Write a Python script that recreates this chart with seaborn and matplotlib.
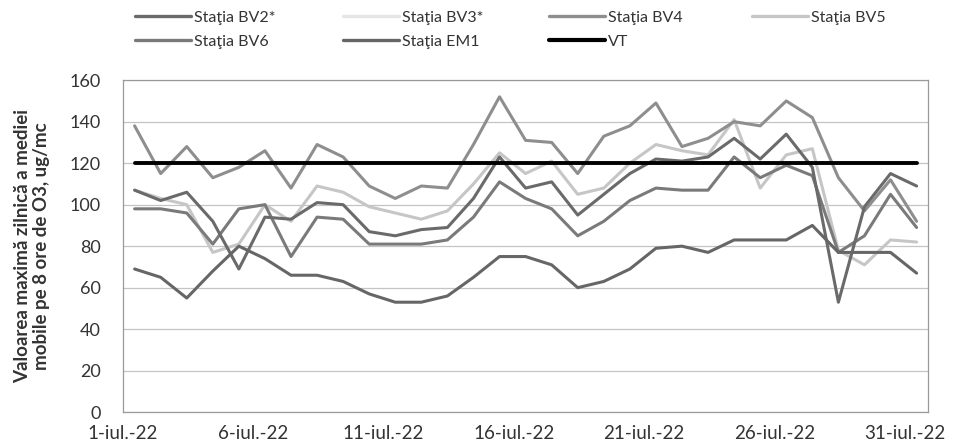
import numpy as np
import pandas as pd
import matplotlib
matplotlib.use("Agg")
import matplotlib.pyplot as plt
from matplotlib.lines import Line2D
import seaborn as sns

days = list(range(1, 32))
tick_days = [1, 6, 11, 16, 21, 26, 31]
tick_labels = [f"{d}-iul.-22" for d in tick_days]

bv4 = [138, 115, 128, 113, 118, 126, 108, 129, 123, 109, 103, 109, 108, 129, 152, 131,
       130, 115, 133, 138, 149, 128, 132, 140, 138, 150, 142, 113, 97, 112, 92]
bv5 = [107, 103, 100, 77, 81, 100, 92, 109, 106, 99, 96, 93, 97, 110, 125, 115,
       121, 105, 108, 120, 129, 126, 124, 141, 108, 124, 127, 78, 71, 83, 82]
bv2 = [107, 102, 106, 92, 69, 94, 93, 101, 100, 87, 85, 88, 89, 103, 123, 108,
       111, 95, 105, 115, 122, 121, 123, 132, 122, 134, 118, 53, 99, 115, 109]
bv6 = [98, 98, 96, 81, 98, 100, 75, 94, 93, 81, 81, 81, 83, 94, 111, 103,
       98, 85, 92, 102, 108, 107, 107, 123, 113, 119, 114, 77, 85, 105, 89]
em1 = [69, 65, 55, 68, 80, 74, 66, 66, 63, 57, 53, 53, 56, 65, 75, 75,
       71, 60, 63, 69, 79, 80, 77, 83, 83, 83, 90, 77, 77, 77, 67]
vt = [120] * 31

series = {
    "Staţia BV2*": bv2,
    "Staţia BV4": bv4,
    "Staţia BV5": bv5,
    "Staţia BV6": bv6,
    "Staţia EM1": em1,
    "VT": vt,
}
colors = {
    "Staţia BV2*": "#6a6a6a",
    "Staţia BV3*": "#e6e6e6",
    "Staţia BV4": "#8e8e8e",
    "Staţia BV5": "#c6c6c6",
    "Staţia BV6": "#7a7a7a",
    "Staţia EM1": "#666666",
    "VT": "#000000",
}

rows = []
for name, vals in series.items():
    for d, v in zip(days, vals):
        rows.append({"day": d, "value": v, "serie": name})
df = pd.DataFrame(rows)

sns.set_style("white")
plt.rcParams["font.family"] = ["Lato", "DejaVu Sans"]

fig = plt.figure(figsize=(9.6, 4.48), dpi=100)
ax = fig.add_axes([0.128, 0.080, 0.967 - 0.128, 0.821 - 0.080])

order = ["Staţia BV5", "Staţia BV4", "Staţia BV6", "Staţia BV2*", "Staţia EM1", "VT"]
for name in order:
    sub = df[df["serie"] == name]
    sns.lineplot(data=sub, x="day", y="value", ax=ax, color=colors[name],
                 lw=2.8 if name == "VT" else 2.2, legend=False,
                 zorder=3 if name == "VT" else 2)

ax.set_xlim(0.55, 31.45)
ax.set_ylim(0, 160)
ax.set_yticks(range(0, 161, 20))
ax.set_xticks([d - 0.45 for d in tick_days])
ax.set_xticklabels(tick_labels)
ax.tick_params(axis="y", labelsize=13, colors="#333333", length=0, pad=16)
ax.tick_params(axis="x", labelsize=13.5, colors="#333333", length=4, width=0.8,
               color="#9a9a9a", pad=5)
ax.grid(axis="y", color="#c4c4c4", lw=0.9)
ax.set_axisbelow(True)
for s in ax.spines.values():
    s.set_color("#9a9a9a")
    s.set_linewidth(0.9)
ax.set_xlabel("")
ax.set_ylabel("Valoarea maximă zilnică a mediei\nmobile pe 8 ore de O3, ug/mc",
              fontsize=13.5, fontweight="bold", color="#333333", labelpad=14,
              linespacing=1.15)

legend_items = [
    ("Staţia BV2*", 135, 18), ("Staţia BV3*", 343, 18), ("Staţia BV4", 549, 18),
    ("Staţia BV5", 752, 18),
    ("Staţia BV6", 135, 42), ("Staţia EM1", 343, 42), ("VT", 549, 42),
]
for name, xp, yp in legend_items:
    h = Line2D([], [], color=colors[name], lw=3 if name == "VT" else 2.4)
    fig.legend([h], [name], loc="center left", bbox_to_anchor=(xp / 960, 1 - yp / 448),
               frameon=False, fontsize=11.5, handlelength=3.5, handletextpad=0.2,
               borderpad=0, borderaxespad=0, labelcolor="#333333")

fig.savefig("out.png", dpi=100, facecolor="white")
